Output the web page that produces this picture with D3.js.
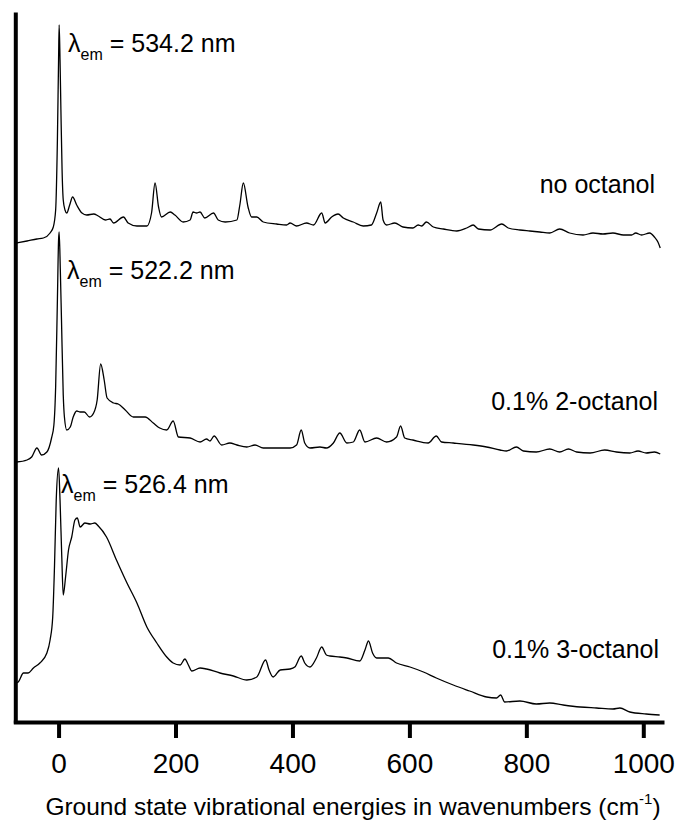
<!DOCTYPE html>
<html><head><meta charset="utf-8">
<script src="https://cdn.jsdelivr.net/npm/d3@7"></script>
<style>body{margin:0;background:#fff} svg text{font-family:"Liberation Sans",Arial,sans-serif;fill:#000}</style>
</head><body>
<svg id="chart" width="679" height="827"></svg>
<script>
// ---- data (arbitrary intensity units) ----
const xTicks = [0, 200, 400, 600, 800, 1000];
const seriesNames = ["no octanol", "0.1% 2-octanol", "0.1% 3-octanol"];
const emissionLabels = ["534.2 nm", "522.2 nm", "526.4 nm"];
const offsets = [470, 250, 0];

const noOctanol = [[-72,8],[-54,10],[-37,12],[-26,13],[-14.5,18],[-9,24],[-5,41],[-2,111],[0,191],[1,226],[2.5,191],[4,141],[6,81],[8,51],[11,41],[14,38],[19,46],[24,54],[31,46],[40,38],[48,36],[60,37],[68,35],[80,31],[88,32],[94,28],[111,34],[119,28],[134,25],[151,25],[159,38],[165,68],[171,44],[176,34],[191,39],[199,36],[213,29],[225,31],[230,39],[236,38],[242,39],[250,33],[265,38],[273,31],[285,29],[305,31],[310,46],[316,68],[324,44],[330,34],[339,34],[350,29],[373,27],[390,26],[396,28],[407,25],[424,28],[436,26],[450,38],[456,28],[467,34],[478,37],[487,33],[504,29],[521,25],[535,26],[544,38],[551,49],[555,31],[561,26],[575,28],[589,24],[606,23],[615,26],[621,25],[629,29],[641,24],[658,22],[681,20],[698,23],[709,26],[718,22],[738,21],[758,27],[769,23],[789,21],[806,20],[823,19],[840,18],[857,22],[874,18],[897,16],[914,18],[931,17],[948,18],[966,16],[980,16],[987,18],[997,16],[1011,18],[1019,14],[1025,9],[1029,3]];

const octanol2 = [[-72,9],[-54,11],[-46,14],[-37,23],[-29,16],[-20,19],[-12,33],[-8,46],[-5,84],[-2,171],[0,231],[1,239],[3,201],[5,151],[8,76],[10,54],[14,41],[20,44],[25,54],[31,60],[37,59],[44,59],[53,54],[60,58],[66,71],[72,107],[78,91],[83,73],[94,68],[102,67],[114,61],[128,54],[148,54],[162,48],[173,43],[185,41],[196,50],[205,34],[225,33],[242,29],[253,32],[259,30],[266,35],[279,26],[293,28],[305,26],[322,24],[336,26],[350,23],[373,23],[396,23],[407,26],[415,41],[421,28],[430,23],[447,24],[458,23],[470,28],[481,38],[493,28],[504,29],[515,41],[524,29],[544,33],[561,29],[578,34],[585,45],[592,33],[606,31],[632,28],[646,35],[655,29],[675,28],[709,26],[732,24],[755,21],[766,20],[783,24],[795,20],[817,19],[840,22],[857,19],[872,22],[886,19],[909,18],[934,21],[954,19],[977,18],[991,20],[1005,18],[1019,19],[1029,17]];

const octanol3 = [[-72,38],[-69,39],[-60,48],[-52,48],[-43,53],[-32,58],[-20,68],[-14.5,81],[-10,104],[-7,154],[-4,221],[0,253],[2.5,221],[5.5,164],[8,126],[12,144],[17,171],[22.5,184],[28,201],[32,203],[37,194],[45,198],[54,197],[62,198],[68,195],[82,184],[99,161],[117,138],[134,118],[151,94],[168,78],[185,64],[196,58],[208,56],[216,62],[222,56],[228,50],[242,53],[253,52],[276,48],[299,45],[322,41],[339,44],[354,61],[360,51],[367,44],[379,51],[396,52],[404,54],[415,65],[421,58],[430,54],[441,63],[450,74],[458,66],[464,65],[481,64],[493,63],[515,60],[524,71],[530,80],[537,68],[544,63],[564,63],[578,58],[601,54],[624,49],[646,43],[675,36],[703,30],[732,24],[749,23],[756,26],[763,19],[789,20],[817,17],[840,18],[863,16],[892,14],[920,13],[948,12],[960,13],[977,9],[1005,7],[1028,6]];

const traces = [noOctanol, octanol2, octanol3];

// ---- chart ----
const svg = d3.select("#chart");
const x = d3.scaleLinear().domain([-74, 1032]).range([15.3, 662]);
const y = d3.scaleLinear().domain([0, 707]).range([721, 14]);

const line = d3.line().curve(d3.curveMonotoneX);

traces.forEach((t, i) => {
  svg.append("path")
    .datum(t)
    .attr("fill", "none")
    .attr("stroke", "#000")
    .attr("stroke-width", 1.3)
    .attr("stroke-linejoin", "round")
    .attr("d", line.x(d => x(d[0])).y(d => y(d[1] + offsets[i])));
});

// axes
const gx = svg.append("g").attr("transform", "translate(0,722)")
  .call(d3.axisBottom(x).tickValues(xTicks).tickFormat(d3.format("d")).tickSize(16).tickSizeOuter(0).tickPadding(15));
gx.select(".domain").attr("stroke-width", 4).attr("stroke-linecap", "square");
gx.selectAll(".tick line").attr("stroke-width", 4);
gx.selectAll(".tick text").attr("font-size", 28).attr("font-family", "Liberation Sans, Arial, sans-serif");

const gy = svg.append("g").attr("transform", "translate(15.3,0)")
  .call(d3.axisLeft(y).tickValues([]).tickSizeOuter(0));
gy.select(".domain").attr("stroke-width", 4).attr("stroke-linecap", "square");

// x-axis title
const title = svg.append("text").attr("x", 353).attr("y", 815).attr("text-anchor", "middle").attr("font-size", 24.5);
title.append("tspan").text("Ground state vibrational energies in wavenumbers (cm");
title.append("tspan").attr("font-size", 15).attr("dy", -11).text("-1");
title.append("tspan").attr("dy", 11).text(")");

// emission labels
const emPos = [[68, 52], [67, 279], [61, 493]];
emissionLabels.forEach((lab, i) => {
  const t = svg.append("text").attr("x", emPos[i][0]).attr("y", emPos[i][1]).attr("font-size", 25);
  t.append("tspan").text("λ");
  t.append("tspan").attr("font-size", 16).attr("dy", 8).text("em");
  t.append("tspan").attr("dy", -8).text(" = " + lab);
});

// series labels
const namePos = [[655, 193], [658, 410], [659, 658]];
seriesNames.forEach((n, i) => {
  svg.append("text").attr("x", namePos[i][0]).attr("y", namePos[i][1])
    .attr("text-anchor", "end").attr("font-size", 25).text(n);
});
</script>
</body></html>
